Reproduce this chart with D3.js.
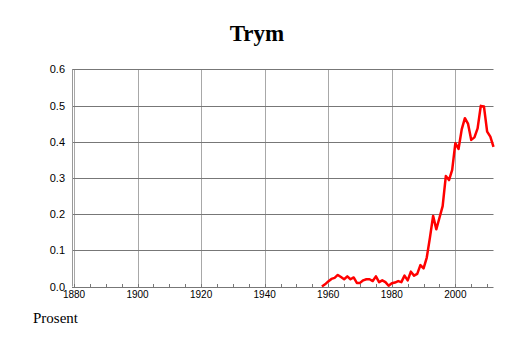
<!DOCTYPE html>
<html lang="no">
<head>
<meta charset="UTF-8">
<title>Trym</title>
<script src="https://cdn.jsdelivr.net/npm/d3@7"></script>
<style>
    body { margin: 0; background: #fff; }
</style>
</head>
<body>
<script>
// data
var years = [1958, 1959, 1960, 1961, 1962, 1963, 1964, 1965, 1966, 1967, 1968, 1969,
             1970, 1971, 1972, 1973, 1974, 1975, 1976, 1977, 1978, 1979, 1980, 1981,
             1982, 1983, 1984, 1985, 1986, 1987, 1988, 1989, 1990, 1991, 1992, 1993,
             1994, 1995, 1996, 1997, 1998, 1999, 2000, 2001, 2002, 2003, 2004, 2005,
             2006, 2007, 2008, 2009, 2010, 2011, 2012];
var values = [0.0, 0.006, 0.014, 0.021, 0.024, 0.032, 0.026, 0.02, 0.028, 0.02, 0.025, 0.01,
              0.01, 0.017, 0.02, 0.02, 0.015, 0.028, 0.012, 0.017, 0.012, 0.002, 0.009, 0.011,
              0.015, 0.012, 0.03, 0.017, 0.041, 0.03, 0.035, 0.059, 0.05, 0.08, 0.135, 0.195,
              0.158, 0.19, 0.222, 0.305, 0.294, 0.322, 0.396, 0.38, 0.434, 0.465, 0.449, 0.405,
              0.412, 0.437, 0.499, 0.497, 0.428, 0.414, 0.386];
var xTicks = [1880, 1900, 1920, 1940, 1960, 1980, 2000];
var yTicks = [0.0, 0.1, 0.2, 0.3, 0.4, 0.5, 0.6];

var w = 514, h = 343;
var pLeft = 74, pRight = 493.5, pTop = 69.3, pBottom = 286.5;

var svg = d3.select("body").append("svg")
    .attr("width", w)
    .attr("height", h);

var x = d3.scaleLinear().domain([1880, 2012]).range([pLeft, pRight]);
var y = d3.scaleLinear().domain([0, 0.6]).range([pBottom, pTop]);

// vertical grid
svg.selectAll("line.vg").data(xTicks).enter().append("line")
    .attr("x1", function (d) { return Math.round(x(d)) + 0.5; })
    .attr("x2", function (d) { return Math.round(x(d)) + 0.5; })
    .attr("y1", pTop).attr("y2", pBottom)
    .attr("stroke", "#a8a8a8").attr("stroke-width", 1);

// horizontal grid
svg.selectAll("line.hg").data(yTicks).enter().append("line")
    .attr("x1", pLeft - 2).attr("x2", pRight)
    .attr("y1", function (d) { return Math.round(y(d)) + 0.5; })
    .attr("y2", function (d) { return Math.round(y(d)) + 0.5; })
    .attr("stroke", "#777").attr("stroke-width", 1);

// left axis line
svg.append("line")
    .attr("x1", pLeft - 1.5).attr("x2", pLeft - 1.5)
    .attr("y1", pTop).attr("y2", pBottom)
    .attr("stroke", "#999").attr("stroke-width", 1);

// minor ticks every 5 years, pointing up
svg.selectAll("line.mt").data(d3.range(1880, 2013, 5)).enter().append("line")
    .attr("x1", function (d) { return Math.round(x(d)) + 0.5; })
    .attr("x2", function (d) { return Math.round(x(d)) + 0.5; })
    .attr("y1", Math.round(pBottom) - 3).attr("y2", Math.round(pBottom))
    .attr("stroke", "#777").attr("stroke-width", 1);

// tick labels
svg.selectAll("text.xl").data(xTicks).enter().append("text")
    .attr("x", function (d) { return x(d); })
    .attr("y", 298)
    .attr("text-anchor", "middle")
    .attr("font-family", "Liberation Sans, Arial, sans-serif")
    .attr("font-size", "10px")
    .text(function (d) { return d; });

svg.selectAll("text.yl").data(yTicks).enter().append("text")
    .attr("x", 65)
    .attr("y", function (d) { return y(d) + 4; })
    .attr("text-anchor", "end")
    .attr("font-family", "Liberation Sans, Arial, sans-serif")
    .attr("font-size", "11px")
    .text(function (d) { return d.toFixed(1); });

// the line
var line = d3.line()
    .x(function (d, i) { return x(years[i]); })
    .y(function (d) { return y(d); });

svg.append("path")
    .datum(values)
    .attr("d", line)
    .attr("fill", "none")
    .attr("stroke", "#ff0000")
    .attr("stroke-width", 2.5)
    .attr("stroke-linejoin", "round");

// title and footer
svg.append("text")
    .attr("x", 257).attr("y", 41)
    .attr("text-anchor", "middle")
    .attr("font-family", "Liberation Serif, Times New Roman, serif")
    .attr("font-weight", "bold")
    .attr("font-size", "23px")
    .text("Trym");

svg.append("text")
    .attr("x", 33).attr("y", 323)
    .attr("font-family", "Liberation Serif, Times New Roman, serif")
    .attr("font-size", "15px")
    .text("Prosent");
</script>
</body>
</html>
